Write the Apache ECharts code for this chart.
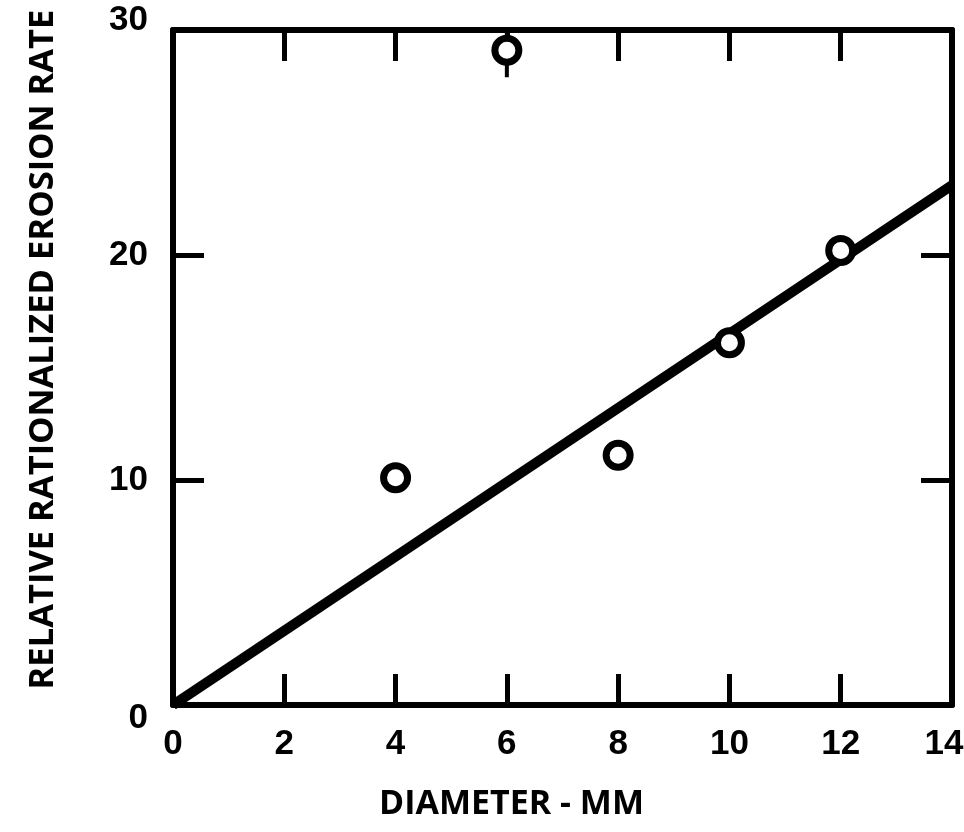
<!DOCTYPE html>
<html><head><meta charset="utf-8">
<script src="https://cdn.jsdelivr.net/npm/echarts@6/dist/echarts.min.js"></script>
<style>html,body{margin:0;padding:0;background:#fff}#c{width:964px;height:832px}</style>
</head><body><div id="c"></div>
<script>
const pointX = [4, 6, 8, 10, 12];
const pointY = [10.1, 29.1, 11.1, 16.1, 20.2];
const lineX = [0, 14];
const lineY = [0, 23.1];
const errX = [6, 6];
const errY = [27.9, 30];
const xTicks = [0, 2, 4, 6, 8, 10, 12, 14];
const yTicks = [0, 10, 20, 30];
const xTitle = 'DIAMETER - MM';
const yTitle = 'RELATIVE RATIONALIZED EROSION RATE';

const labelFont = "'Liberation Sans', sans-serif";
const titleFont = "'Open Sans', sans-serif";
const chart = echarts.init(document.getElementById('c'));
const axisLine = {show: true, onZero: false, lineStyle: {color: '#000', width: 6}};
const tick = {show: true, inside: true, length: 31, lineStyle: {color: '#000', width: 5}};
const labelStyle = {color: '#000', fontSize: 35, fontWeight: 'bold', fontFamily: labelFont};
chart.setOption({
  animation: false,
  grid: {left: 173, right: 12, top: 30, bottom: 127, outerBoundsMode: 'none', containLabel: false},
  xAxis: [{
    type: 'value', min: 0, max: 14, interval: 2, position: 'bottom',
    axisLine, axisTick: tick, splitLine: {show: false},
    axisLabel: Object.assign({margin: 22,
      formatter: v => !xTicks.includes(v) ? '' : (v === 14 ? '{r|' + v + '}' : String(v)),
      rich: {r: Object.assign({padding: [0, 16, 0, 0]}, labelStyle)}}, labelStyle),
    name: xTitle, nameLocation: 'middle', nameGap: 82,
    nameTextStyle: {color: '#000', fontSize: 34, fontWeight: 'bold', fontFamily: titleFont, padding: [0, 102, 0, 0]}
  }, {
    type: 'value', min: 0, max: 14, interval: 2, position: 'top',
    axisLine, axisTick: tick, axisLabel: {show: false}, splitLine: {show: false}
  }],
  yAxis: [{
    type: 'value', min: 0, max: 30, interval: 10, position: 'left',
    axisLine, axisTick: tick, splitLine: {show: false},
    axisLabel: Object.assign({margin: 25,
      formatter: v => !yTicks.includes(v) ? '' : (v === 0 ? '{lo|' + v + '}' : (v === 30 ? '{hi|' + v + '}' : String(v))),
      rich: {
        lo: Object.assign({padding: [26, 0, 0, 0]}, labelStyle),
        hi: Object.assign({padding: [0, 0, 20, 0]}, labelStyle)
      }}, labelStyle),
    name: yTitle, nameLocation: 'middle', nameGap: 112,
    nameTextStyle: {color: '#000', fontSize: 34.5, fontWeight: 'bold', fontFamily: titleFont, padding: [0, 0, 0, 36]}
  }, {
    type: 'value', min: 0, max: 30, interval: 10, position: 'right',
    axisLine, axisTick: tick, axisLabel: {show: false}, splitLine: {show: false}
  }],
  series: [{
    type: 'line', data: lineX.map((x, i) => [x, lineY[i]]),
    symbol: 'none', lineStyle: {color: '#000', width: 10}, z: 2
  }, {
    type: 'line', data: errX.map((x, i) => [x, errY[i]]),
    symbol: 'none', lineStyle: {color: '#000', width: 4}, z: 2
  }, {
    type: 'scatter', data: pointX.map((x, i) => [x, pointY[i]]),
    symbol: 'circle', symbolSize: 24,
    itemStyle: {color: '#fff', borderColor: '#000', borderWidth: 7, opacity: 1}, z: 3
  }]
});
</script></body></html>
